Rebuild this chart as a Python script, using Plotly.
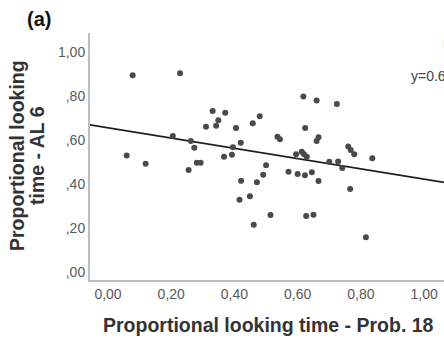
import numpy as np
import plotly.graph_objects as go

# Scatter data
prob18 = [0.078, 0.228, 0.310, 0.205, 0.262, 0.273, 0.059, 0.119, 0.281, 0.293,
          0.255, 0.618, 0.660, 0.331, 0.371, 0.349, 0.480, 0.458, 0.342, 0.405,
          0.624, 0.536, 0.544, 0.420, 0.660, 0.666, 0.395, 0.367, 0.392, 0.595,
          0.613, 0.620, 0.629, 0.500, 0.571, 0.600, 0.623, 0.645, 0.666, 0.421,
          0.491, 0.471, 0.416, 0.449, 0.514, 0.461, 0.627, 0.650, 0.724, 0.760,
          0.768, 0.779, 0.836, 0.700, 0.728, 0.741, 0.766, 0.816]
al6 = [0.894, 0.903, 0.660, 0.618, 0.595, 0.565, 0.529, 0.492, 0.497, 0.497,
       0.464, 0.797, 0.779, 0.732, 0.724, 0.690, 0.708, 0.676, 0.665, 0.655,
       0.655, 0.615, 0.603, 0.588, 0.595, 0.612, 0.567, 0.524, 0.533, 0.535,
       0.547, 0.535, 0.524, 0.485, 0.456, 0.445, 0.440, 0.453, 0.414, 0.415,
       0.442, 0.408, 0.329, 0.345, 0.259, 0.215, 0.255, 0.260, 0.764, 0.570,
       0.555, 0.535, 0.517, 0.501, 0.502, 0.473, 0.377, 0.158]

# Fit line as shown in the picture
fit_intercept = 0.655
fit_slope = -0.233
fit_x = [-0.1, 1.2]

x_tickvals = [0.0, 0.2, 0.4, 0.6, 0.8, 1.0]
x_ticktext = ["0,00", "0,20", "0,40", "0,60", "0,80", "1,00"]
y_tickvals = [0.0, 0.2, 0.4, 0.6, 0.8, 1.0]
y_ticktext = [",00", ",20", ",40", ",60", ",80", "1,00"]

FONT = "Liberation Sans, Arial, sans-serif"
W, H = 444, 344
L, R, T, B = 90, 0, 33, 64
pw, ph = W - L - R, H - T - B


def px(xp):
    return (xp - L) / pw


def py(yp):
    return (H - B - yp) / ph


fit_y = [fit_intercept + fit_slope * v for v in fit_x]

fig = go.Figure()
fig.add_trace(go.Scatter(
    x=fit_x, y=fit_y, mode="lines",
    line=dict(color="#1e1e1e", width=1.8), showlegend=False, hoverinfo="skip"))
fig.add_trace(go.Scatter(
    x=prob18, y=al6, mode="markers",
    marker=dict(size=6, color="#4a4a4a", line=dict(width=0)), showlegend=False))

fig.update_layout(
    width=W, height=H,
    margin=dict(l=L, r=R, t=T, b=B, pad=0),
    paper_bgcolor="white", plot_bgcolor="white",
    font=dict(family=FONT, color="#555555", size=14),
    xaxis=dict(range=[-0.057, 1.063], tickvals=x_tickvals, ticktext=x_ticktext,
               showgrid=False, zeroline=False, showline=True, linecolor="#bdbdbd",
               linewidth=2, ticks="", tickfont=dict(size=14, color="#5a5a5a")),
    yaxis=dict(range=[-0.036, 1.086], tickvals=y_tickvals, ticktext=y_ticktext,
               showgrid=False, zeroline=False, showline=True, linecolor="#bdbdbd",
               linewidth=2, ticks="", tickfont=dict(size=14, color="#5a5a5a")),
)

ann = [
    dict(text="(a)", x=px(25), y=py(19), xanchor="left", yanchor="middle",
         font=dict(size=20, color="#111111", family=FONT, weight="bold")),
    dict(text="Proportional looking", x=px(17), y=py(156), xanchor="center", yanchor="middle",
         textangle=-90, font=dict(size=19.5, color="#333333", family=FONT, weight="bold")),
    dict(text="time - AL 6", x=px(37), y=py(156), xanchor="center", yanchor="middle",
         textangle=-90, font=dict(size=19.5, color="#333333", family=FONT, weight="bold")),
    dict(text="Proportional looking time - Prob. 18", x=px(268), y=py(325),
         xanchor="center", yanchor="middle",
         font=dict(size=19.5, color="#333333", family=FONT, weight="bold")),
    dict(text="y=0.66-0.23*x", x=px(409), y=py(76), xanchor="left", yanchor="middle",
         font=dict(size=14, color="#444444", family=FONT)),
    dict(text="R² Linear = 0,059", x=px(441), y=py(45), xanchor="left", yanchor="middle",
         font=dict(size=12, color="#888888", family=FONT)),
]
for a in ann:
    a.update(xref="paper", yref="paper", showarrow=False)
fig.update_layout(annotations=ann)

fig.write_html("out.html", config={"displayModeBar": False},
               post_script="document.body.style.margin='0';document.body.style.overflow='hidden';")
